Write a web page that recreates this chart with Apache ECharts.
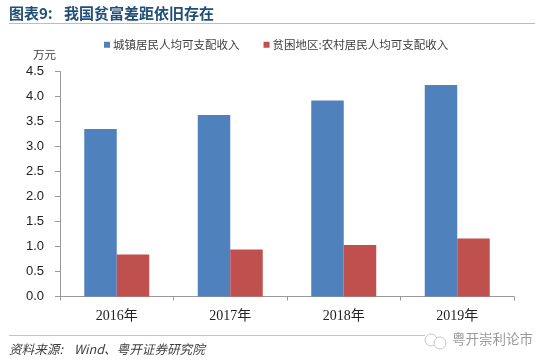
<!DOCTYPE html>
<html><head><meta charset="utf-8">
<style>html,body{margin:0;padding:0;background:#fff}#c{width:550px;height:364px}</style>
<script src="https://cdn.jsdelivr.net/npm/echarts@6/dist/echarts.min.js"></script>
</head><body><div id="c"></div>
<script>
const categories = ['2016年','2017年','2018年','2019年'];
const urbanName = '城镇居民人均可支配收入';
const ruralName = '贫困地区:农村居民人均可支配收入';
const urbanValues = [3.35,3.63,3.92,4.23];
const ruralValues = [0.84,0.94,1.03,1.16];
const FONT = '"Noto Sans CJK SC", sans-serif';
const chart = echarts.init(document.getElementById('c'));
chart.setOption({
  animation:false,
  backgroundColor:'#fff',
  textStyle:{fontFamily:FONT},
  grid:{left:60,right:36,top:71.5,bottom:67.5},
  legend:{
    left:99,top:34,itemWidth:6,itemHeight:6,itemGap:24,icon:'rect',
    textStyle:{fontSize:11.5,color:'#404040',fontFamily:FONT,padding:[0,0,0,-2]},
    data:[urbanName,ruralName]
  },
  xAxis:{
    type:'category',data:categories,
    axisLine:{lineStyle:{color:'#999',width:1}},
    axisTick:{show:true,alignWithLabel:false,length:4,lineStyle:{color:'#999'}},
    axisLabel:{fontSize:14,color:'#222',margin:13,fontFamily:'"Liberation Serif","Noto Sans CJK SC",serif'}
  },
  yAxis:{
    type:'value',min:0,max:4.5,interval:0.5,
    name:'万元',nameLocation:'end',nameGap:11,
    nameTextStyle:{fontSize:11.5,color:'#404040',align:'right',padding:[0,4,0,0]},
    splitLine:{show:false},
    axisLine:{show:true,lineStyle:{color:'#999',width:1}},
    axisTick:{show:true,length:5,inside:false,lineStyle:{color:'#999'}},
    axisLabel:{fontSize:13,color:'#222',margin:16,fontFamily:'"Liberation Sans",sans-serif',formatter:v=>v.toFixed(1)}
  },
  series:[
    {name:urbanName,type:'bar',data:urbanValues,barWidth:32.5,barGap:'0%',itemStyle:{color:'#4f81bd'}},
    {name:ruralName,type:'bar',data:ruralValues,barWidth:32.5,barGap:'0%',itemStyle:{color:'#c0504d'}}
  ],
  graphic:[
    {type:'text',left:9,top:6,style:{text:'图表9:',font:'bold 15px "Noto Sans CJK SC"',fill:'#1f4e79'}},
    {type:'text',left:64,top:6,style:{text:'我国贫富差距依旧存在',font:'bold 15px "Noto Sans CJK SC"',fill:'#1f4e79'}},
    {type:'line',shape:{x1:9,y1:23.5,x2:535,y2:23.5},style:{stroke:'#bdbdbd',lineWidth:1}},
    {type:'line',shape:{x1:9,y1:335.5,x2:425,y2:335.5},style:{stroke:'#c4c4c4',lineWidth:1}},
    {type:'text',left:9,top:343,style:{text:'资料来源:',font:'italic 12.6px "Noto Sans CJK SC"',fill:'#404040'}},
    {type:'text',left:74,top:343,style:{text:'Wind、粤开证券研究院',font:'italic 12.6px "Noto Sans CJK SC"',fill:'#404040'}},
    {type:'text',left:452,top:332,style:{text:'粤开崇利论市',font:'13.5px "Noto Sans CJK SC"',fill:'#9a9a9a'}},
    {type:'circle',shape:{cx:431,cy:340,r:6},style:{fill:'#fff',stroke:'#c8c8c8',lineWidth:1}},
    {type:'circle',shape:{cx:440,cy:343,r:6},style:{fill:'#fff',stroke:'#c8c8c8',lineWidth:1}}
  ]
});
</script></body></html>
